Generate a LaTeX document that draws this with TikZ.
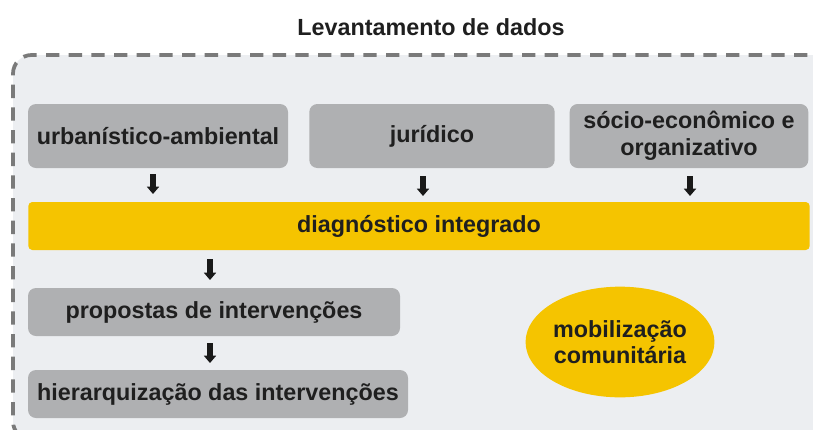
\documentclass[tikz,border=0pt]{standalone}
\usepackage{fontspec}
\setmainfont{Liberation Sans}
\usetikzlibrary{shapes.geometric,arrows.meta}
\definecolor{bgfill}{HTML}{ECEEF1}
\definecolor{framegray}{HTML}{7A7A7A}
\definecolor{boxgray}{HTML}{AFB0B2}
\definecolor{yel}{HTML}{F5C400}
\tikzset{
  txt/.style={font=\fontsize{17.5}{20}\selectfont\bfseries, text=black!88},
  graybox/.style={txt, fill=boxgray, rounded corners=6pt, inner sep=0pt, align=center},
  downarrow/.style={-{Triangle[width=9pt,length=5.5pt]}, line width=3.8pt, black!90, shorten >=0pt}
}
\begin{document}
\begin{tikzpicture}[x=0.75pt,y=-0.75pt]
\useasboundingbox (0,0) rectangle (813,429);
\fill[white] (0,0) rectangle (813,429);
% frame
\path[fill=bgfill, draw=framegray, line width=2.8pt, dash pattern=on 10pt off 7pt, rounded corners=14pt]
  (830,55) -- (13,55) -- (13,440) -- (830,440);
\node[txt] (title) at (431,27) {Levantamento de dados};
% top boxes
\node[graybox, minimum width=195pt, minimum height=48pt] (urb) at (158,136) {urbanístico-ambiental};
\node[graybox, minimum width=184pt, minimum height=48pt] (jur) at (432,136) {jurídico};
\node[graybox, minimum width=179pt, minimum height=48pt] (soc) at (689,136) {sócio-econômico e\\organizativo};
% diagnostico
\node[txt, fill=yel, rounded corners=3pt, minimum width=586pt, minimum height=36pt, inner sep=0pt] (diag) at (419,226) {diagnóstico integrado};
% lower boxes
\node[graybox, minimum width=279pt, minimum height=36pt] (prop) at (214,312) {propostas de intervenções};
\node[graybox, minimum width=285pt, minimum height=36pt] (hier) at (218,394) {hierarquização das intervenções};
% ellipse
\node[txt, ellipse, fill=yel, minimum width=138pt, minimum height=83pt, inner sep=0pt, align=center] (mob) at (620,342) {mobilização\\comunitária};
% arrows
\coordinate (a1s) at (153,174); \coordinate (a1e) at (153,194);
\coordinate (a2s) at (423,176); \coordinate (a2e) at (423,196);
\coordinate (a3s) at (690,176); \coordinate (a3e) at (690,196);
\coordinate (a4s) at (210,259); \coordinate (a4e) at (210,280);
\coordinate (a5s) at (210,343); \coordinate (a5e) at (210,363);
\draw[downarrow] (a1s) -- (a1e);
\draw[downarrow] (a2s) -- (a2e);
\draw[downarrow] (a3s) -- (a3e);
\draw[downarrow] (a4s) -- (a4e);
\draw[downarrow] (a5s) -- (a5e);
\end{tikzpicture}
\end{document}
